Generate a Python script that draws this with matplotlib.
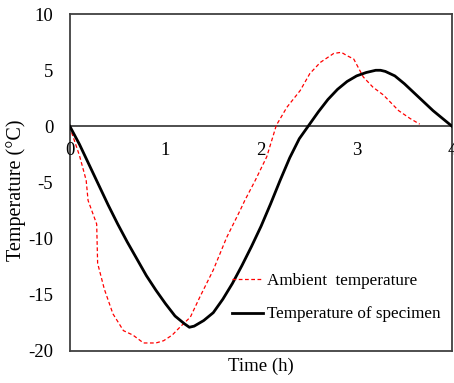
import matplotlib.pyplot as plt

plt.rcParams["font.family"] = ["Liberation Serif", "DejaVu Serif"]

# Data
time_specimen = [0, 0.1, 0.2, 0.3, 0.4, 0.5, 0.6, 0.7, 0.8, 0.9, 1.0, 1.1, 1.2,
                 1.25, 1.3, 1.4, 1.5, 1.6, 1.7, 1.8, 1.9, 2.0, 2.1, 2.2, 2.3,
                 2.4, 2.5, 2.6, 2.7, 2.8, 2.9, 3.0, 3.1, 3.2, 3.25, 3.3, 3.4,
                 3.5, 3.6, 3.7, 3.8, 3.9, 4.0]
temp_specimen = [0, -1.6, -3.4, -5.2, -7.0, -8.7, -10.3, -11.8, -13.3, -14.6,
                 -15.8, -16.9, -17.6, -17.9, -17.8, -17.3, -16.6, -15.4, -14.0,
                 -12.4, -10.7, -8.9, -6.9, -4.8, -2.8, -1.1, 0.1, 1.3, 2.4, 3.3,
                 4.0, 4.5, 4.8, 5.0, 5.0, 4.9, 4.5, 3.8, 3.0, 2.2, 1.4, 0.7, 0.0]

time_ambient = [0, 0.02, 0.1, 0.17, 0.19, 0.28, 0.29, 0.36, 0.45, 0.56, 0.66,
                0.77, 0.9, 0.98, 1.07, 1.15, 1.26, 1.36, 1.5, 1.64, 1.78, 1.83,
                1.94, 2.06, 2.16, 2.27, 2.41, 2.51, 2.62, 2.76, 2.84, 2.9, 2.97,
                3.07, 3.17, 3.28, 3.44, 3.56, 3.66]
temp_ambient = [0, -0.6, -2.6, -4.8, -6.6, -8.7, -12.2, -14.5, -16.7, -18.2,
                -18.6, -19.3, -19.3, -19.1, -18.6, -17.9, -17.0, -15.2, -12.8,
                -9.9, -7.5, -6.6, -4.8, -2.7, 0.1, 1.7, 3.2, 4.7, 5.7, 6.5, 6.6,
                6.3, 6.0, 4.4, 3.5, 2.8, 1.4, 0.7, 0.2]

x_ticks = [0, 1, 2, 3, 4]
y_ticks = [-20, -15, -10, -5, 0, 5, 10]

fig = plt.figure(figsize=(4.54, 3.83), dpi=100)
ax = fig.add_axes([0.154, 0.084, 0.842, 0.879])

ax.axhline(0, color="#404040", lw=1.3, zorder=1)
ax.plot(time_ambient, temp_ambient, color="red", lw=0.9, dashes=(3, 2),
        label="Ambient  temperature", zorder=2)
ax.plot(time_specimen, temp_specimen, color="black", lw=2,
        label="Temperature of specimen", zorder=3)

ax.set_xlim(0, 4)
ax.set_ylim(-20, 10)
ax.set_yticks(y_ticks)
ax.set_yticklabels([str(v) for v in y_ticks], fontsize=13.5)
ax.tick_params(axis="y", length=0, pad=12)
ax.set_xticks([])

# x tick labels sit just under the zero line
for t in x_ticks:
    ax.annotate(str(t), xy=(t, 0), xytext=(0, -11), textcoords="offset points",
                ha="center", va="top", fontsize=13.5, annotation_clip=False)

for side in ["top", "bottom", "left", "right"]:
    ax.spines[side].set_color("#404040")
    ax.spines[side].set_linewidth(1.3)

ax.set_xlabel("Time (h)", fontsize=13.5, labelpad=5)
ax.set_ylabel("Temperature (°C)", fontsize=14.5)
ax.yaxis.set_label_coords(-0.116, 0.478)

ax.legend(loc="upper left", bbox_to_anchor=(0.425, 0.23), frameon=False,
          fontsize=12.3, handlelength=1.8, handletextpad=0.25,
          labelspacing=1.0, borderpad=0, borderaxespad=0)

fig.savefig("out.png", dpi=100)
